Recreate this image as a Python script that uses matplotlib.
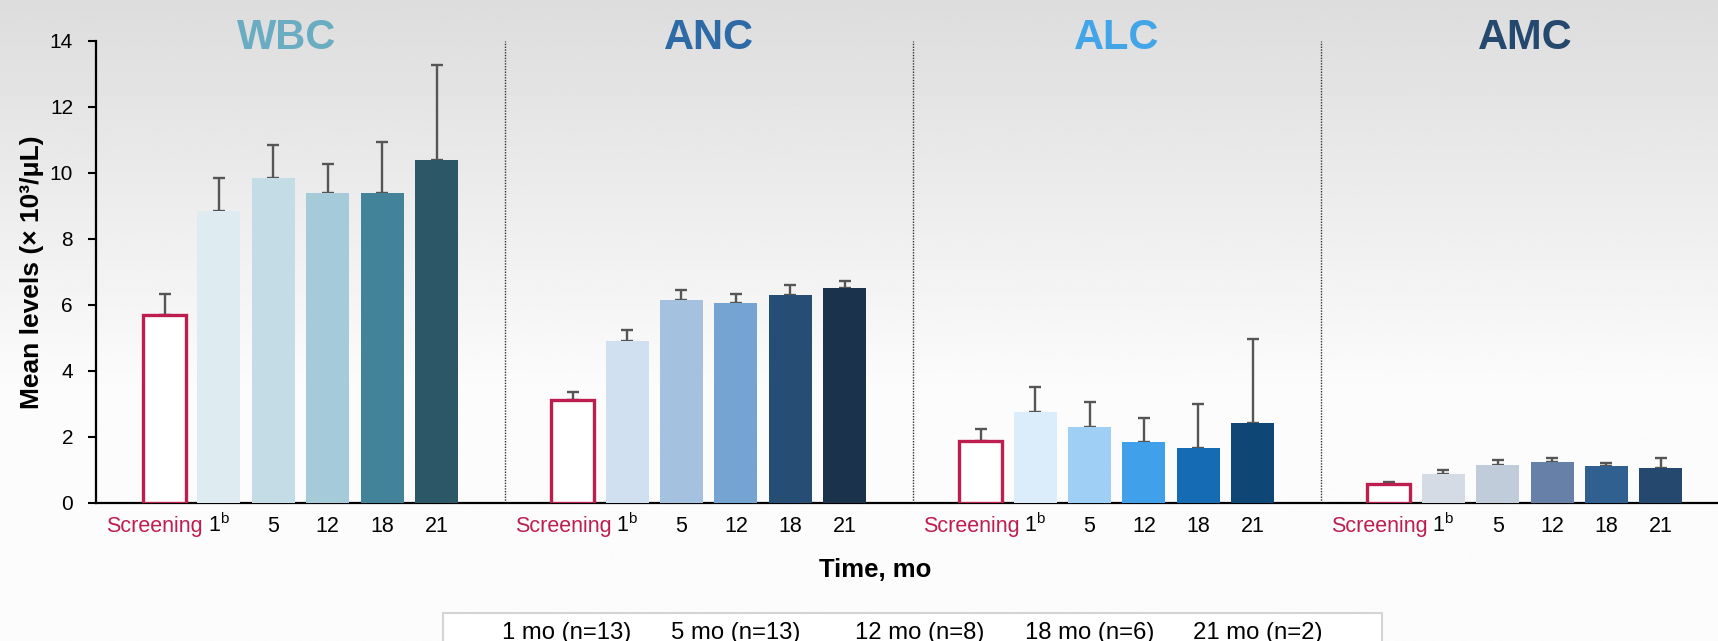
import matplotlib
matplotlib.use("Agg")
import matplotlib.pyplot as plt
import numpy as np
from matplotlib.patches import Rectangle

plt.rcParams["font.family"] = ["Liberation Sans", "DejaVu Sans"]
plt.rcParams["mathtext.fontset"] = "custom"
plt.rcParams["mathtext.rm"] = "Liberation Sans"

# data
PANELS = ["WBC", "ANC", "ALC", "AMC"]
TIMEPOINTS = ["Screening", "1$^{\\mathrm{b}}$", "5", "12", "18", "21"]

WBC_MEAN = [5.70, 8.85, 9.85, 9.37, 9.37, 10.37]
WBC_ERR = [0.63, 0.98, 1.00, 0.90, 1.55, 2.90]
ANC_MEAN = [3.12, 4.90, 6.14, 6.05, 6.29, 6.50]
ANC_ERR = [0.25, 0.33, 0.32, 0.29, 0.30, 0.22]
ALC_MEAN = [1.88, 2.75, 2.29, 1.84, 1.66, 2.43]
ALC_ERR = [0.37, 0.75, 0.77, 0.74, 1.33, 2.52]
AMC_MEAN = [0.57, 0.87, 1.14, 1.23, 1.11, 1.05]
AMC_ERR = [0.08, 0.12, 0.15, 0.14, 0.09, 0.32]

LEGEND_LABELS = ["1 mo (n=13)", "5 mo (n=13)", "12 mo (n=8)", "18 mo (n=6)", "21 mo (n=2)"]

# styles
SCREEN_COLOR = "#be1e4f"
TITLE_COLORS = ["#6aacc2", "#2e6aa6", "#42a5e8", "#24486e"]
BAR_COLORS = [
    ["#deecf2", "#c3dce5", "#a6cbd8", "#428399", "#2c5766"],
    ["#d0e0f0", "#a4c2df", "#75a4d3", "#264d74", "#1b324c"],
    ["#dbecfb", "#a0cff5", "#40a0ea", "#166bb5", "#0e4676"],
    ["#d5dbe5", "#c1ccdb", "#6680a8", "#30608f", "#24486e"],
]
GROUP_STEP = 7.5
BAR_W = 0.79
W, H = 1718, 641


def main():
    fig = plt.figure(figsize=(W / 100, H / 100), dpi=100)

    # grey-to-white background
    bg = fig.add_axes([0, 0, 1, 1], zorder=-5)
    ys = np.linspace(0, 1, 300)
    shade = np.clip(0.865 + (0.985 - 0.865) * ys / 0.6, 0, 0.985)
    bg.imshow(np.repeat(shade[:, None], 2, axis=1), cmap="gray", vmin=0, vmax=1,
              aspect="auto", extent=[0, 1, 1, 0])
    bg.axis("off")

    ax = fig.add_axes([96 / W, 1 - 503 / H, 1 - 96 / W, (503 - 40.5) / H])
    ax.set_facecolor("none")

    means = [WBC_MEAN, ANC_MEAN, ALC_MEAN, AMC_MEAN]
    errs = [WBC_ERR, ANC_ERR, ALC_ERR, AMC_ERR]
    for g, name in enumerate(PANELS):
        x = g * GROUP_STEP + np.arange(len(TIMEPOINTS))
        ax.bar(x[0], means[g][0], width=BAR_W, facecolor="white",
               edgecolor=SCREEN_COLOR, linewidth=2.4, zorder=3)
        ax.bar(x[1:], means[g][1:], width=BAR_W, color=BAR_COLORS[g], zorder=3)
        ax.errorbar(x, means[g], yerr=[np.zeros(len(x)), errs[g]], fmt="none",
                    ecolor="#555555", elinewidth=1.7, capsize=4.6, capthick=1.7,
                    zorder=2)
        ax.text(x.mean() - (0.25 if g == 0 else 0), 13.75, name, ha="center",
                va="baseline", fontsize=30, fontweight="bold",
                color=TITLE_COLORS[g])
        if g > 0:
            ax.plot([x[0] - 1.25] * 2, [0, 14], color="#333333", lw=1,
                    ls=(0, (1, 1)), zorder=1)
        # category labels under the bars
        for xi, lab in zip(x, TIMEPOINTS):
            first = lab == "Screening"
            ax.annotate(lab, xy=(xi, 0), xycoords=("data", "axes fraction"),
                        xytext=(-7 if first else 0, -21), textcoords="offset points",
                        ha="center", va="baseline", fontsize=15.5,
                        color=SCREEN_COLOR if first else "black",
                        annotation_clip=False)

    ax.set_xlim(-1.26, 28.55)
    ax.set_ylim(0, 14)
    ax.set_yticks(range(0, 15, 2))
    ax.set_xticks([])
    ax.tick_params(axis="y", length=6, width=1.5, pad=10.5, labelsize=15)
    for s in ["top", "right"]:
        ax.spines[s].set_visible(False)
    for s in ["left", "bottom"]:
        ax.spines[s].set_linewidth(1.6)

    ax.set_ylabel("Mean levels (× 10³/μL)", fontsize=19, fontweight="bold")
    ax.yaxis.set_label_coords(-0.032, 0.5)
    fig.text(875 / W, 1 - 570 / H, "Time, mo", ha="center", va="center",
             fontsize=18.5, fontweight="bold")

    # legend strip at the bottom (cut off by the image edge)
    fig.patches.append(Rectangle((443 / W, -0.05), (1382 - 443) / W, 0.05 + 28.3 / H,
                                 transform=fig.transFigure, facecolor="white",
                                 edgecolor="#d4d4d4", lw=1.5, zorder=1))
    leg_x = [501.7, 670.7, 855, 1025, 1193.3]
    for lx, lab in zip(leg_x, LEGEND_LABELS):
        fig.text(lx / W, 1 - 633 / H, lab, ha="left", va="center", fontsize=17.2)

    fig.savefig("out.png", dpi=100)


if __name__ == "__main__":
    main()
